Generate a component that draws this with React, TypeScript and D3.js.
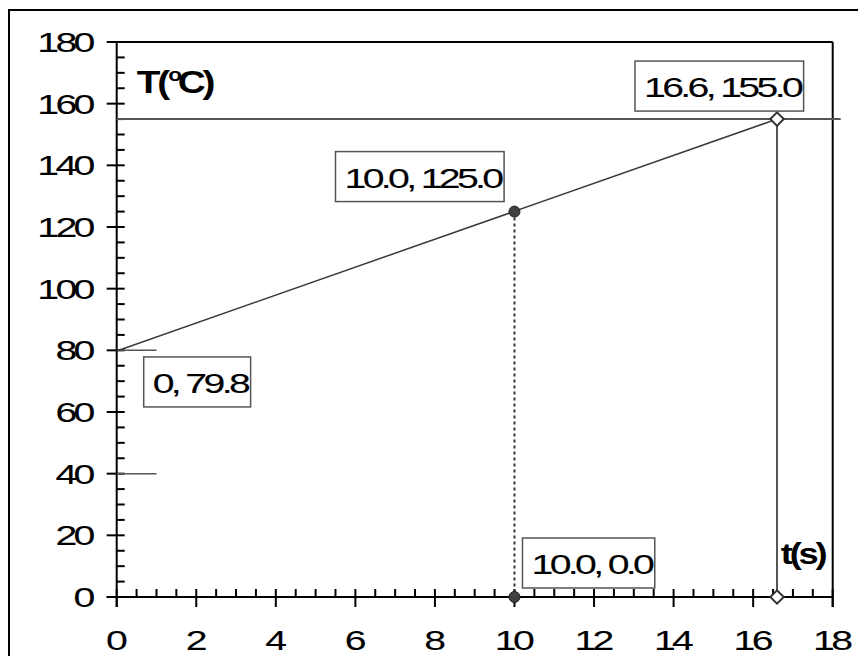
import React, { useEffect, useRef } from "react";
import * as d3 from "d3";

const xTicks = [0, 2, 4, 6, 8, 10, 12, 14, 16, 18];
const yTicks = [0, 20, 40, 60, 80, 100, 120, 140, 160, 180];
const lineT = [0, 16.6];
const lineTemp = [79.8, 155.0];
const markerT = [10.0, 10.0, 16.6, 16.6];
const markerTemp = [125.0, 0.0, 155.0, 0.0];
const markerShape = ["circle", "circle", "diamond", "diamond"];
const labelText = ["0, 79.8", "10.0, 125.0", "16.6, 155.0", "10.0, 0.0"];
const labelT = [0, 10.0, 16.6, 10.0];
const labelTemp = [79.8, 125.0, 155.0, 0.0];
const dropT = [10.0];
const dropTemp = [125.0];
const guideT = [16.6];
const guideTemp = [155.0];
const stubTemp = [80, 40];
const stubEndT = [1, 1];

const W = 850;
const H = 648;
const FONT = "'Liberation Sans', Arial, sans-serif";
const SX = 1.4;
const FS = 28;
const LS = -2.6;

export default function App() {
  const ref = useRef<SVGSVGElement>(null);
  useEffect(() => {
    const svg = d3.select(ref.current);
    svg.selectAll("*").remove();
    const x = d3.scaleLinear().domain([0, 18]).range([108.7, 824.7]);
    const y = d3.scaleLinear().domain([0, 180]).range([589, 34]);

    svg.append("rect").attr("x", 1).attr("y", 2).attr("width", 1000).attr("height", 1000)
      .attr("fill", "white").attr("stroke", "#000").attr("stroke-width", 2);

    const g = svg.append("g");

    g.append("line").attr("x1", x(0)).attr("x2", x(18)).attr("y1", y(180)).attr("y2", y(180))
      .attr("stroke", "#000").attr("stroke-width", 2);
    g.append("line").attr("x1", x(18)).attr("x2", x(18)).attr("y1", y(180)).attr("y2", y(0) + 10)
      .attr("stroke", "#000").attr("stroke-width", 2);

    g.append("line").attr("x1", x(0)).attr("x2", x(0)).attr("y1", y(180)).attr("y2", y(0) + 10)
      .attr("stroke", "#000").attr("stroke-width", 2);
    d3.range(0, 181, 5).forEach((v) => {
      const major = v % 20 === 0;
      g.append("line").attr("x1", major ? x(0) - 10 : x(0)).attr("x2", x(0) + 8)
        .attr("y1", y(v)).attr("y2", y(v)).attr("stroke", "#000").attr("stroke-width", 2);
    });
    g.append("line").attr("x1", x(0) - 10).attr("x2", x(18)).attr("y1", y(0)).attr("y2", y(0))
      .attr("stroke", "#000").attr("stroke-width", 2);
    d3.range(0, 18.01, 0.5).forEach((v) => {
      const major = Math.abs(v % 2) < 1e-6;
      g.append("line").attr("x1", x(v)).attr("x2", x(v))
        .attr("y1", y(0) - 8).attr("y2", major ? y(0) + 10 : y(0))
        .attr("stroke", "#000").attr("stroke-width", 2);
    });

    const label = (parent: any, tx: number, ty: number, txt: string, anchor: string) => {
      const te = parent.append("g").attr("transform", `translate(${tx},${ty}) scale(${SX},1)`)
        .append("text").text(txt).attr("text-anchor", anchor)
        .attr("font-family", FONT).attr("font-size", FS).attr("letter-spacing", LS)
        .attr("fill", "#000").attr("stroke", "#000").attr("stroke-width", 0.12);
      return te;
    };

    xTicks.forEach((v) => {
      label(g, x(v) - 1.5, y(0) + 53, String(v), "middle");
    });
    yTicks.forEach((v) => {
      label(g, x(0) - 25, y(v) + 10, String(v), "end");
    });

    stubTemp.forEach((v, i) => {
      g.append("line").attr("x1", x(0)).attr("x2", x(stubEndT[i])).attr("y1", y(v)).attr("y2", y(v))
        .attr("stroke", "#555").attr("stroke-width", 1.5);
    });

    guideTemp.forEach((v) => {
      g.append("line").attr("x1", x(0)).attr("x2", x(18) + 8).attr("y1", y(v)).attr("y2", y(v))
        .attr("stroke", "#555").attr("stroke-width", 2);
    });
    guideT.forEach((t, i) => {
      g.append("line").attr("x1", x(t)).attr("x2", x(t)).attr("y1", y(guideTemp[i])).attr("y2", y(0))
        .attr("stroke", "#555").attr("stroke-width", 2);
    });
    dropT.forEach((t, i) => {
      g.append("line").attr("x1", x(t)).attr("x2", x(t)).attr("y1", y(dropTemp[i])).attr("y2", y(0))
        .attr("stroke", "#333").attr("stroke-width", 2).attr("stroke-dasharray", "3,3");
    });

    const pts = lineT.map((t, i) => [t, lineTemp[i]] as [number, number]);
    g.append("path").attr("d", d3.line<[number, number]>().x((d) => x(d[0])).y((d) => y(d[1]))(pts))
      .attr("fill", "none").attr("stroke", "#3a3a3a").attr("stroke-width", 1.5);

    markerT.forEach((t, i) => {
      const cx = x(t), cy = y(markerTemp[i]);
      if (markerShape[i] === "circle") {
        g.append("circle").attr("cx", cx).attr("cy", cy).attr("r", 5.5)
          .attr("fill", "#404040").attr("stroke", "#222").attr("stroke-width", 1);
      } else {
        g.append("path").attr("d", d3.symbol(d3.symbolSquare, 90)()!)
          .attr("transform", `translate(${cx},${cy}) rotate(45)`)
          .attr("fill", "white").attr("stroke", "#333").attr("stroke-width", 2);
      }
    });

    const offsets = [
      [36, 42],
      [-170, -24],
      [-133, -22],
      [17, -23],
    ];
    labelText.forEach((txt, i) => {
      const px = x(labelT[i]) + offsets[i][0];
      const py = y(labelTemp[i]) + offsets[i][1];
      const box = g.append("rect");
      const te = label(g, px, py, txt, "start");
      const bb = (te.node() as SVGTextElement).getBBox();
      const w = bb.width * SX;
      box.attr("x", px - 9).attr("y", py - 36).attr("width", w + 10).attr("height", 50)
        .attr("fill", "white").attr("stroke", "#555").attr("stroke-width", 1.5);
    });

    const tt = g.append("g").attr("transform", `translate(${x(0) + 20},${y(160) - 11}) scale(1.25,1)`)
      .append("text").attr("font-family", FONT).attr("font-weight", "bold").attr("font-size", 31)
      .attr("letter-spacing", -2.5).attr("fill", "#000");
    tt.append("tspan").text("T(");
    tt.append("tspan").text("o").attr("font-size", 18).attr("dy", -12).attr("dx", 1);
    tt.append("tspan").text("C)").attr("dy", 12).attr("dx", -1);

    g.append("g").attr("transform", `translate(${x(18) - 52},${y(0) - 33}) scale(1.25,1)`)
      .append("text").text("t(s)").attr("font-family", FONT).attr("font-weight", "bold")
      .attr("font-size", 29).attr("letter-spacing", -2.5).attr("fill", "#000");
  }, []);
  return (
    <svg ref={ref} width={W} height={H} style={{ display: "block" }} />
  );
}
